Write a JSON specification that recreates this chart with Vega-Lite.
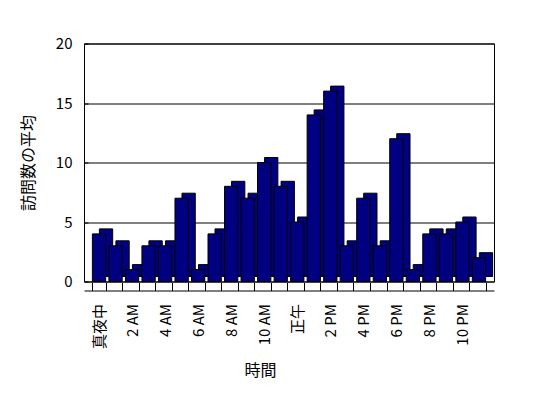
{
  "$schema": "https://vega.github.io/schema/vega-lite/v6.json",
  "width": 410,
  "height": 238,
  "autosize": {"type": "none"},
  "padding": {"left": 84, "top": 43.5, "right": 54, "bottom": 116.5},
  "background": "white",
  "data": {"values": [
    {"hour": "真夜中", "visits": 4},
    {"hour": "1 AM", "visits": 3},
    {"hour": "2 AM", "visits": 1},
    {"hour": "3 AM", "visits": 3},
    {"hour": "4 AM", "visits": 3},
    {"hour": "5 AM", "visits": 7},
    {"hour": "6 AM", "visits": 1},
    {"hour": "7 AM", "visits": 4},
    {"hour": "8 AM", "visits": 8},
    {"hour": "9 AM", "visits": 7},
    {"hour": "10 AM", "visits": 10},
    {"hour": "11 AM", "visits": 8},
    {"hour": "正午", "visits": 5},
    {"hour": "1 PM", "visits": 14},
    {"hour": "2 PM", "visits": 16},
    {"hour": "3 PM", "visits": 3},
    {"hour": "4 PM", "visits": 7},
    {"hour": "5 PM", "visits": 3},
    {"hour": "6 PM", "visits": 12},
    {"hour": "7 PM", "visits": 1},
    {"hour": "8 PM", "visits": 4},
    {"hour": "9 PM", "visits": 4},
    {"hour": "10 PM", "visits": 5},
    {"hour": "11 PM", "visits": 2}
  ]},
  "encoding": {
    "x": {
      "field": "hour", "type": "ordinal", "sort": null,
      "scale": {"paddingInner": 0.195, "paddingOuter": 0.507},
      "axis": {
        "title": "時間", "titleFontSize": 16, "titleFontWeight": "normal", "titleColor": "#000",
        "titleX": 176, "titleY": 80, "titleBaseline": "middle", "titleAlign": "center",
        "labelAngle": 270, "labelFontSize": 15, "labelColor": "#000", "labelPadding": 21,
        "labelExpr": "indexof(['真夜中','2 AM','4 AM','6 AM','8 AM','10 AM','正午','2 PM','4 PM','6 PM','8 PM','10 PM'], datum.label) >= 0 ? datum.label : ''",
        "offset": 9, "domainColor": "#000", "tickColor": "#000", "tickSize": -8, "tickBand": "extent", "grid": false
      }
    },
    "y": {
      "field": "visits", "type": "quantitative",
      "scale": {"domain": [0, 20]},
      "axis": {
        "title": "訪問数の平均", "titleFontSize": 16, "titleFontWeight": "normal", "titleColor": "#000",
        "titleX": -56, "titleY": 119, "titleBaseline": "middle", "titleAlign": "center",
        "values": [0, 5, 10, 15, 20], "labelFontSize": 15, "labelColor": "#000", "labelPadding": 16,
        "tickSize": -4, "tickColor": "#000", "domainColor": "#000",
        "grid": true, "gridColor": "#000", "gridOpacity": 1
      }
    }
  },
  "layer": [
    {"mark": {"type": "bar", "fill": "#000080", "stroke": "#000000", "strokeWidth": 1, "xOffset": 7, "yOffset": -5, "y2Offset": -5}},
    {"mark": {"type": "bar", "fill": "#000080", "stroke": "#000000", "strokeWidth": 1}}
  ],
  "config": {
    "view": {"stroke": "#000", "strokeWidth": 1},
    "font": "Noto Sans CJK JP"
  }
}
